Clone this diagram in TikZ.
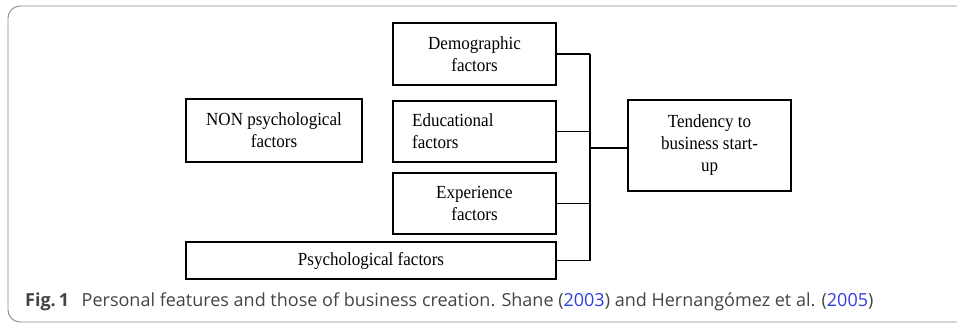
\documentclass[tikz,border=0pt]{standalone}
\usepackage{fontspec}
\setmainfont{Liberation Serif}[FakeStretch=0.92]
\newfontfamily\capfont{Open Sans}
\definecolor{framegray}{HTML}{8A8A8A}
\definecolor{captext}{HTML}{444444}
\definecolor{linkblue}{HTML}{2F3FE0}
\begin{document}
\begin{tikzpicture}[x=1pt,y=-1pt,
  fbox/.style={draw=black, line width=1.7pt, inner sep=0pt, align=center,
    font=\fontsize{18.5}{22}\selectfont},
  conn/.style={draw=black, line width=1.7pt}]
\useasboundingbox (0,0) rectangle (957,324);
\draw[framegray, line width=0.9pt, rounded corners=12pt] (8,6) rectangle (975,322);

\node[fbox, minimum width=176pt, minimum height=63pt] (non) at (274,130.5) {NON psychological\\factors};
\node[fbox, minimum width=163pt, minimum height=62pt] (dem) at (474.5,54) {Demographic\\factors};
\node[fbox, minimum width=163pt, minimum height=61pt] (edu) at (474.5,131.5) {};
\node[anchor=west, align=left, inner sep=0pt, font=\fontsize{18.5}{22}\selectfont] (edutxt) at (412,131.5) {Educational\\factors};
\node[fbox, minimum width=163pt, minimum height=61pt] (exp) at (474.5,203.5) {Experience\\factors};
\node[fbox, minimum width=370pt, minimum height=37pt] (psy) at (371,260.5) {Psychological factors};
\node[fbox, minimum width=163pt, minimum height=91pt] (ten) at (709.5,145.5) {Tendency to\\business start-\\up};

\coordinate (bustop) at (590,54);
\coordinate (busbot) at (590,260.5);
\coordinate (busmid) at (590,148);

\draw[conn] (dem.east) -- (bustop);
\draw[conn] (edu.east) -- (edu.east -| bustop);
\draw[conn] (exp.east) -- (exp.east -| bustop);
\draw[conn] (psy.east) -- (busbot);
\draw[conn] (bustop) -- (busbot);
\draw[conn] (busmid) -- (busmid -| ten.west);

\node[anchor=base west, inner sep=0pt, text=captext, font=\capfont\fontsize{18}{21}\selectfont] (cap) at (25,306)
  {\textbf{Fig.\,1}\hspace{0.7em}Personal features and those of business creation. Shane (\textcolor{linkblue}{2003}) and Hernangómez et al. (\textcolor{linkblue}{2005})};
\end{tikzpicture}
\end{document}
